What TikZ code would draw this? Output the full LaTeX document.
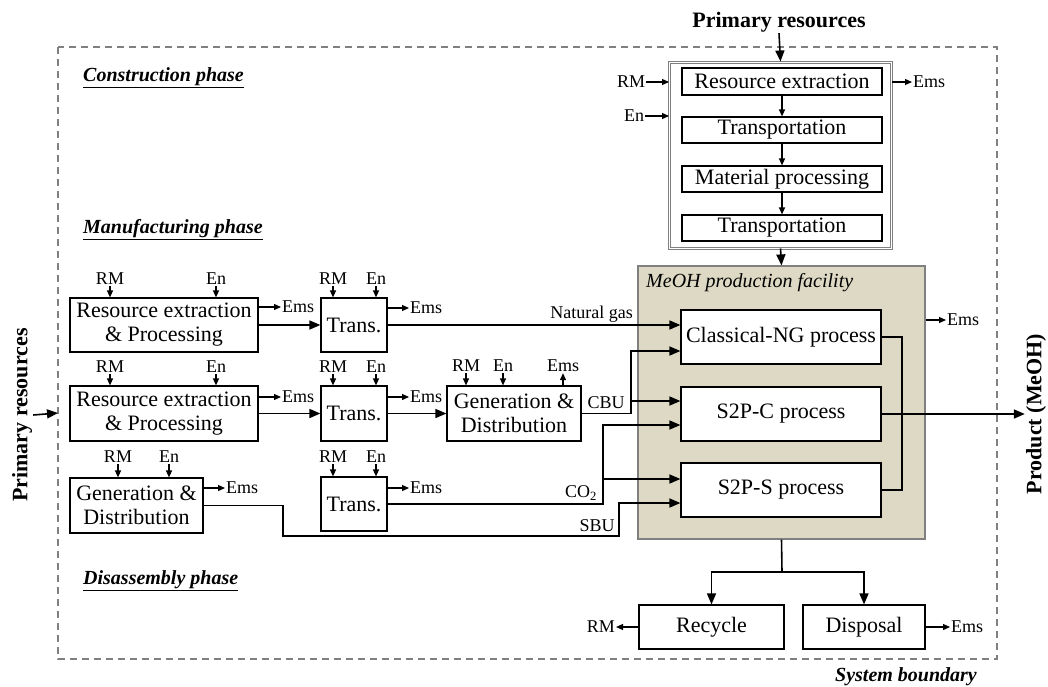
\documentclass[tikz,border=0pt]{standalone}
\usepackage{fontspec}
\setmainfont{Liberation Serif}
\usetikzlibrary{arrows.meta}

\definecolor{facility}{RGB}{221,217,196}

\tikzset{
  box/.style={draw, line width=1.2pt, fill=white, align=center, inner sep=0pt,
    font=\fontsize{22}{24}\selectfont},
  lbl/.style={inner sep=1pt, font=\fontsize{18}{20}\selectfont},
  flow/.style={line width=1.6pt, -{Triangle[length=11pt,width=9pt]}},
  small/.style={line width=1.2pt, -{Triangle[length=7pt,width=6pt]}},
  plain/.style={line width=1.6pt},
  phase/.style={anchor=west, inner sep=0pt, font=\fontsize{20}{22}\selectfont\bfseries\itshape},
  heading/.style={inner sep=1pt, font=\fontsize{22}{24}\selectfont\bfseries},
}

\begin{document}
\begin{tikzpicture}[x=1pt, y=-1pt]
  \useasboundingbox (0,0) rectangle (1048,686);

  % System boundary
  \draw[gray, line width=1.5pt, dash pattern=on 7pt off 5pt] (58,47) rectangle (997,659);
  \node[phase, anchor=center] (bnd) at (906,677) {System boundary};
  \node[phase] (ph1) at (83,78) {\underline{Construction phase}};
  \node[phase] (ph2) at (83,230) {\underline{Manufacturing phase}};
  \node[phase] (ph3) at (83,581) {\underline{Disassembly phase}};

  % Construction phase
  \node[heading] (prtop) at (779,22) {Primary resources};
  \node[draw=gray, double=white, double distance=1pt, line width=1pt,
    minimum width=222pt, minimum height=186pt] (cons) at (780.5,155) {};
  \node[box, minimum width=200pt, minimum height=27pt] (ext) at (782,81.5) {Resource extraction};
  \node[box, minimum width=200pt, minimum height=26pt] (tr1) at (782,130) {Transportation};
  \node[box, minimum width=200pt, minimum height=26pt] (mat) at (782,179) {Material processing};
  \node[box, minimum width=200pt, minimum height=26pt] (tr2) at (782,228) {Transportation};
  \draw[small] (ext) -- (tr1);
  \draw[small] (tr1) -- (mat);
  \draw[small] (mat) -- (tr2);
  \draw[flow] (prtop.south) -- (cons.north);
  \node[lbl] (rmc) at (631,82) {RM};
  \node[lbl] (enc) at (634,116) {En};
  \node[lbl, anchor=west] (emsc) at (912,82) {Ems};
  \draw[small] (rmc.east) -- (rmc.east -| cons.west);
  \draw[small] (enc.east) -- (enc.east -| cons.west);
  \draw[small] (emsc.west -| cons.east) -- (emsc.west);

  % MeOH production facility
  \node[draw=gray, line width=1.2pt, fill=facility, minimum width=287pt,
    minimum height=273pt] (meoh) at (781.5,402.5) {};
  \node[anchor=west, inner sep=0pt, font=\fontsize{20}{22}\selectfont\itshape] (meohlbl)
    at (646,283) {MeOH production facility};
  \node[box, minimum width=200pt, minimum height=54pt] (ng) at (781,337) {Classical-NG process};
  \node[box, minimum width=200pt, minimum height=54pt] (s2pc) at (781,414) {S2P-C process};
  \node[box, minimum width=200pt, minimum height=54pt] (s2ps) at (781,490) {S2P-S process};
  \draw[flow] (cons.south) -- (meoh.north);
  \node[lbl, anchor=west] (emsm) at (946,320) {Ems};
  \draw[small] (emsm.west -| meoh.east) -- (emsm.west);

  % Product
  \coordinate (col) at (902,414);
  \draw[plain] (ng.east) -| (col) |- (s2ps.east);
  \node[heading, rotate=90] (prod) at (1036,414) {Product (MeOH)};
  \draw[flow] (s2pc.east) -- (prod.north);

  % Manufacturing phase
  \node[heading, rotate=90] (prleft) at (22,415) {Primary resources};
  \coordinate (bl) at (58,413);
  \draw[flow] (prleft.south) -- (bl);

  \node[box, minimum width=188pt, minimum height=54pt] (rep1) at (164,325) {Resource extraction\\\& Processing};
  \node[box, minimum width=188pt, minimum height=55pt] (rep2) at (164,413.5) {Resource extraction\\\& Processing};
  \node[box, minimum width=133pt, minimum height=55pt] (gd1) at (136.5,505.5) {Generation \&\\Distribution};
  \node[box, minimum width=66pt, minimum height=54pt] (tra) at (354,325) {Trans.};
  \node[box, minimum width=66pt, minimum height=55pt] (trb) at (354,413.5) {Trans.};
  \node[box, minimum width=66pt, minimum height=54pt] (trc) at (354,504) {Trans.};
  \node[box, minimum width=134pt, minimum height=55pt] (gd2) at (514,413.5) {Generation \&\\Distribution};

  % inputs
  \foreach \x/\y/\t/\b [count=\i] in {110/279/RM/rep1, 216/279/En/rep1, 333/279/RM/tra, 376/279/En/tra,
      110/367/RM/rep2, 216/367/En/rep2, 333/367/RM/trb, 376/367/En/trb, 466/366/RM/gd2, 503/366/En/gd2,
      118/457/RM/gd1, 169/457/En/gd1, 333/457/RM/trc, 376/457/En/trc}
  {
    \node[lbl] (in\i) at (\x,\y) {\t};
    \draw[small] (in\i.south) -- (in\i.south |- \b.north);
  }

  % emissions
  \foreach \b/\x/\y in {rep1/281/307, tra/409/308, rep2/281/397, trb/409/397, gd1/225/488, trc/409/488}
  {
    \node[lbl, anchor=west] (ems-\b) at (\x,\y) {Ems};
    \draw[small] (ems-\b.west -| \b.east) -- (ems-\b.west);
  }
  \node[lbl] (ems-gd2) at (563,366) {Ems};
  \draw[small] (ems-gd2.south |- gd2.north) -- (ems-gd2.south);

  % flows
  \draw[flow] (rep1) -- (tra);
  \draw[flow] (rep2) -- (trb);
  \draw[flow] (trb) -- (gd2);
  \draw[flow] (tra.east) -- (tra.east -| ng.west);
  \node[lbl, anchor=south east] (nglbl) at (634,324) {Natural gas};

  \coordinate (cbu) at (631,351);
  \coordinate (cbub) at (631,401);
  \draw[flow] (gd2.east) -| (cbu) -- (cbu -| ng.west);
  \draw[flow] (cbub) -- (cbub -| s2pc.west);
  \node[lbl] (cbulbl) at (606,403) {CBU};

  \coordinate (co2) at (603,425);
  \coordinate (co2b) at (603,479);
  \draw[flow] (trc.east) -| (co2) -- (co2 -| s2pc.west);
  \draw[flow] (co2b) -- (co2b -| s2ps.west);
  \node[lbl] (co2lbl) at (581,493) {CO\textsubscript{2}};

  \coordinate (sbu1) at (283,536);
  \coordinate (sbu2) at (619,503);
  \draw[flow] (gd1.east) -| (sbu1) -| (sbu2) -- (sbu2 -| s2ps.west);
  \node[lbl] (sbulbl) at (597,526) {SBU};

  % Disassembly phase
  \node[box, minimum width=145pt, minimum height=44pt] (rec) at (711.5,627) {Recycle};
  \node[box, minimum width=122pt, minimum height=44pt] (dis) at (864,627) {Disposal};
  \coordinate (split) at (782,572);
  \draw[plain] (meoh.south) -- (split);
  \draw[flow] (split) -| (rec.north);
  \draw[flow] (split) -| (dis.north);
  \node[lbl, anchor=east] (rmout) at (616,627) {RM};
  \node[lbl, anchor=west] (emsd) at (950,627) {Ems};
  \draw[small] (rec.west) -- (rmout.east);
  \draw[small] (dis.east) -- (emsd.west);
\end{tikzpicture}
\end{document}
